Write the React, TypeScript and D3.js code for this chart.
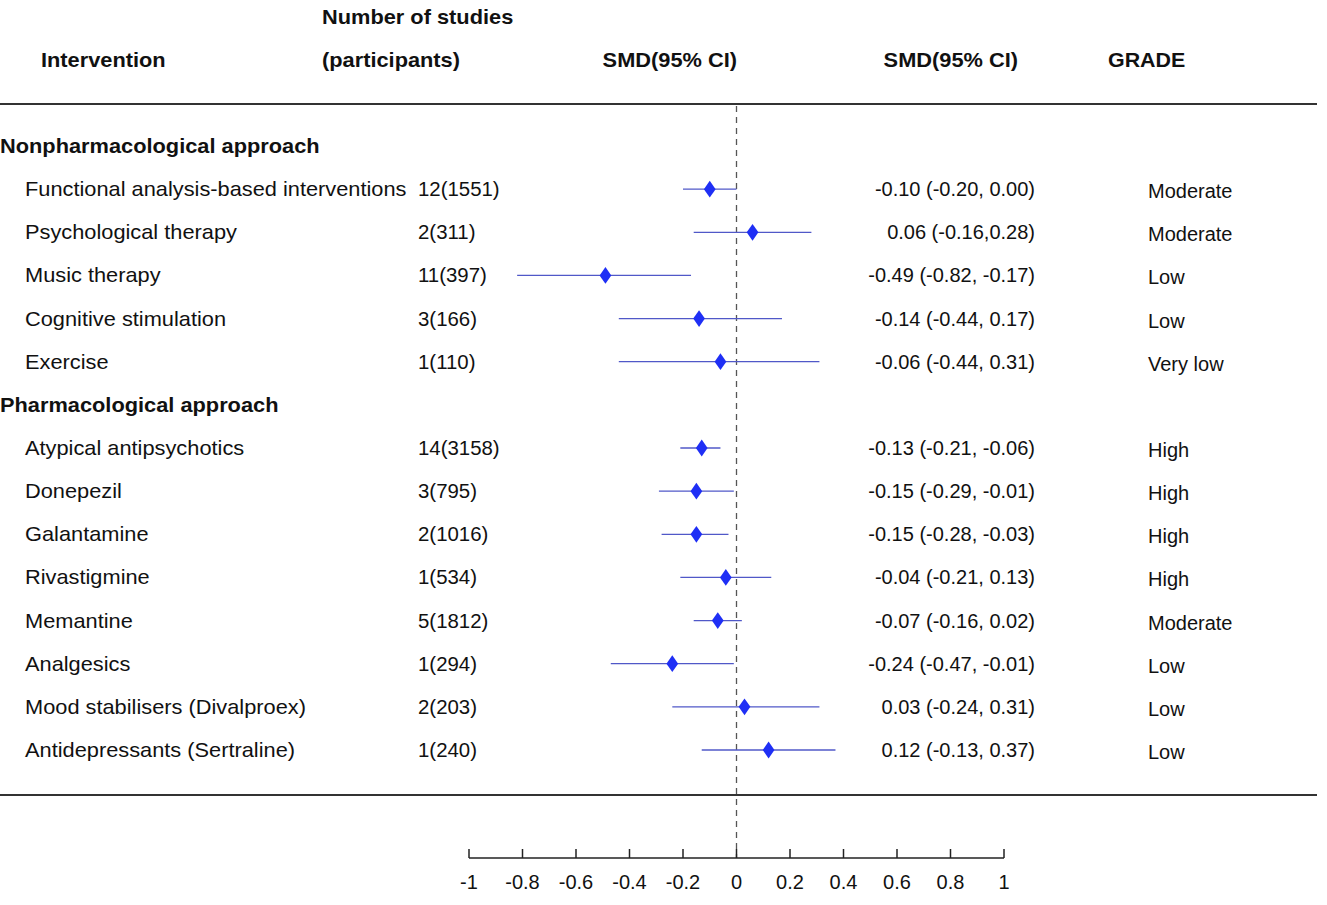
import React from "react";
import * as d3 from "d3";

const sections = ["Nonpharmacological approach", "Pharmacological approach"];
const interventions = [
  "Functional analysis-based interventions",
  "Psychological therapy",
  "Music therapy",
  "Cognitive stimulation",
  "Exercise",
  "Atypical antipsychotics",
  "Donepezil",
  "Galantamine",
  "Rivastigmine",
  "Memantine",
  "Analgesics",
  "Mood stabilisers (Divalproex)",
  "Antidepressants (Sertraline)",
];
const sectionOf = [0, 0, 0, 0, 0, 1, 1, 1, 1, 1, 1, 1, 1];
const studies = ["12(1551)", "2(311)", "11(397)", "3(166)", "1(110)", "14(3158)", "3(795)", "2(1016)", "1(534)", "5(1812)", "1(294)", "2(203)", "1(240)"];
const smd = [-0.10, 0.06, -0.49, -0.14, -0.06, -0.13, -0.15, -0.15, -0.04, -0.07, -0.24, 0.03, 0.12];
const lower = [-0.20, -0.16, -0.82, -0.44, -0.44, -0.21, -0.29, -0.28, -0.21, -0.16, -0.47, -0.24, -0.13];
const upper = [0.00, 0.28, -0.17, 0.17, 0.31, -0.06, -0.01, -0.03, 0.13, 0.02, -0.01, 0.31, 0.37];
const smdLabels = [
  "-0.10 (-0.20, 0.00)",
  "0.06 (-0.16,0.28)",
  "-0.49 (-0.82, -0.17)",
  "-0.14 (-0.44, 0.17)",
  "-0.06 (-0.44, 0.31)",
  "-0.13 (-0.21, -0.06)",
  "-0.15 (-0.29, -0.01)",
  "-0.15 (-0.28, -0.03)",
  "-0.04 (-0.21, 0.13)",
  "-0.07 (-0.16, 0.02)",
  "-0.24 (-0.47, -0.01)",
  "0.03 (-0.24, 0.31)",
  "0.12 (-0.13, 0.37)",
];
const grades = ["Moderate", "Moderate", "Low", "Low", "Very low", "High", "High", "High", "High", "Moderate", "Low", "Low", "Low"];
const ticks = [-1, -0.8, -0.6, -0.4, -0.2, 0, 0.2, 0.4, 0.6, 0.8, 1];

const W = 1327;
const H = 905;
const FONT = "'Liberation Sans', Arial, sans-serif";

function T(props: { x: number; y: number; sx?: number; anchor?: string; children: React.ReactNode; [k: string]: any }) {
  const { x, y, sx = 1, anchor = "start", children, ...rest } = props;
  return (
    <g transform={`translate(${x},${y}) scale(${sx},1)`}>
      <text x={0} y={0} textAnchor={anchor} {...rest}>
        {children}
      </text>
    </g>
  );
}

export default function App() {
  const x = d3.scaleLinear().domain([-1, 1]).range([469, 1004]);
  const slots: { type: "section" | "item"; idx: number }[] = [];
  sections.forEach((s, si) => {
    slots.push({ type: "section", idx: si });
    interventions.forEach((_, i) => {
      if (sectionOf[i] === si) slots.push({ type: "item", idx: i });
    });
  });
  const y = d3.scaleLinear().domain([0, slots.length - 1]).range([146, 750]);
  const diamond = d3.symbol().type(d3.symbolDiamond).size(90);
  const ciColor = "#5058c8";
  const markColor = "#1f2ff5";
  const axisY = 858;
  const HS = 1.09;

  return (
    <svg width={W} height={H} style={{ position: "absolute", left: 0, top: 0, background: "#fff" }} fontFamily={FONT}>
      <g fontWeight="bold" fontSize={20} fill="#111">
        <T x={322} y={24} sx={HS}>Number of studies</T>
        <T x={41} y={67} sx={HS}>Intervention</T>
        <T x={322} y={67} sx={HS}>(participants)</T>
        <T x={737} y={67} sx={HS} anchor="end">SMD(95% CI)</T>
        <T x={1018} y={67} sx={HS} anchor="end">SMD(95% CI)</T>
        <T x={1108} y={67} sx={1.07}>GRADE</T>
      </g>
      <line x1={0} x2={1317} y1={104} y2={104} stroke="#333" strokeWidth={2} />
      <line x1={0} x2={1317} y1={795} y2={795} stroke="#333" strokeWidth={2} />
      <line x1={x(0)} x2={x(0)} y1={106} y2={axisY} stroke="#555" strokeWidth={1.3} strokeDasharray="6,5" />
      {slots.map((s, k) => {
        const yy = y(k);
        if (s.type === "section") {
          return (
            <T key={"s" + k} x={0} y={yy + 7} sx={HS} fontWeight="bold" fontSize={20} fill="#111">
              {sections[s.idx]}
            </T>
          );
        }
        const i = s.idx;
        return (
          <g key={"r" + k} fontSize={20} fill="#111">
            <T x={25} y={yy + 7} sx={1.09}>{interventions[i]}</T>
            <T x={418} y={yy + 7} sx={1.02}>{studies[i]}</T>
            <line x1={x(lower[i])} x2={x(upper[i])} y1={yy} y2={yy} stroke={ciColor} strokeWidth={1.3} />
            <path d={diamond() as string} transform={`translate(${x(smd[i])},${yy}) scale(1.15,0.95)`} fill={markColor} />
            <T x={1035} y={yy + 7} anchor="end">{smdLabels[i]}</T>
            <T x={1148} y={yy + 9}>{grades[i]}</T>
          </g>
        );
      })}
      <g>
        <line x1={x(-1)} x2={x(1)} y1={axisY} y2={axisY} stroke="#222" strokeWidth={1.5} />
        {ticks.map((t) => (
          <g key={t}>
            <line x1={x(t)} x2={x(t)} y1={axisY} y2={axisY - 9} stroke="#222" strokeWidth={1.5} />
            <text x={x(t)} y={axisY + 31} textAnchor="middle" fontSize={20} fill="#111">
              {String(t)}
            </text>
          </g>
        ))}
      </g>
    </svg>
  );
}
